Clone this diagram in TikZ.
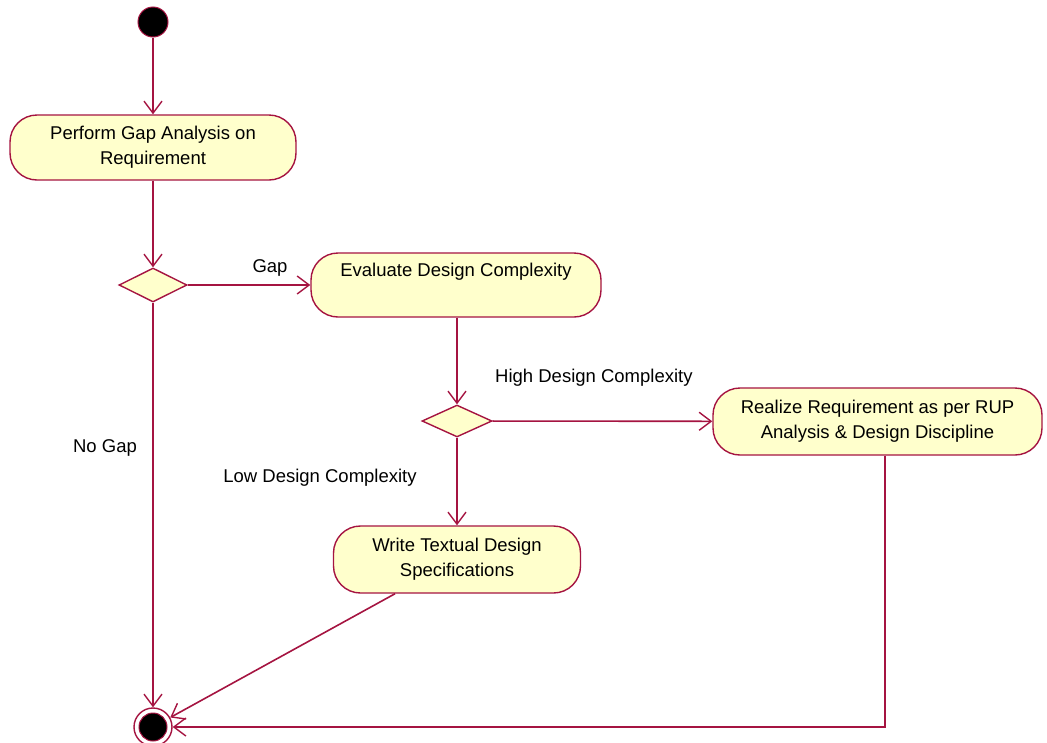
\documentclass[tikz,border=0pt]{standalone}
\usepackage{fontspec}
\setmainfont{Liberation Sans}
\usetikzlibrary{arrows.meta,shapes.geometric}
\definecolor{edge}{RGB}{165,20,65}
\definecolor{actfill}{RGB}{255,255,204}

\begin{document}
\begin{tikzpicture}[x=1pt,y=-1pt,
  txt/.style={font=\fontsize{18.5}{25}\selectfont, align=center},
  flow/.style={draw=edge, line width=1.6pt,
    -{Straight Barb[length=12pt,width=18pt,line width=1.4pt]}},
  act/.style={txt, rectangle, rounded corners=27pt, draw=edge,
    fill=actfill, line width=1.4pt, inner sep=0pt},
  branch/.style={diamond, draw=edge, fill=actfill, line width=1.4pt,
    inner sep=0pt},
  lbl/.style={txt, inner sep=0pt}
]
\path[use as bounding box] (0,0) rectangle (1047,742);

% initial and final states
\node[circle, fill=black, draw=edge, line width=1pt, minimum size=30pt, inner sep=0pt]
  (start) at (153,22) {};
\node[circle, fill=white, draw=edge, line width=1.4pt, minimum size=38pt, inner sep=0pt]
  (final) at (153,727) {};
\node[circle, fill=black, draw=edge, line width=1pt, minimum size=28pt, inner sep=0pt]
  (finalin) at (153,727) {};

% activities
\node[act, minimum width=286pt, minimum height=65pt] (gap) at (153,147.5)
  {Perform Gap Analysis on\\Requirement};
\node[act, minimum width=290pt, minimum height=64pt] (eval) at (456,285)
  {Evaluate Design Complexity\\[6pt]\mbox{}};
\node[act, minimum width=329pt, minimum height=67pt] (rup) at (877.5,421.5)
  {Realize Requirement as per RUP\\Analysis \& Design Discipline};
\node[act, minimum width=247pt, minimum height=67pt] (spec) at (457,559.5)
  {Write Textual Design\\Specifications};

% decisions
\node[branch, minimum width=68pt, minimum height=34pt] (d1) at (153,285) {};
\node[branch, minimum width=70pt, minimum height=32pt] (d2) at (457,421) {};

% guard labels
\node[lbl] (lgap) at (270,268) {Gap};
\node[lbl] (lnogap) at (105,448) {No Gap};
\node[lbl, anchor=west] (lhigh) at (495,378) {High Design Complexity};
\node[lbl] (llow) at (320,478) {Low Design Complexity};

% transitions
\draw[flow] (start) -- (gap);
\draw[flow] (gap) -- (d1);
\draw[flow] (d1) -- (eval);
\draw[flow] (d1) -- (final);
\draw[flow] (eval.south -| d2) -- (d2);
\draw[flow] (d2) -- (rup);
\draw[flow] (d2) -- (spec);
\draw[flow] (spec) -- (final);
\draw[flow] ([xshift=7.5pt]rup.south) |- (final);
\end{tikzpicture}
\end{document}
